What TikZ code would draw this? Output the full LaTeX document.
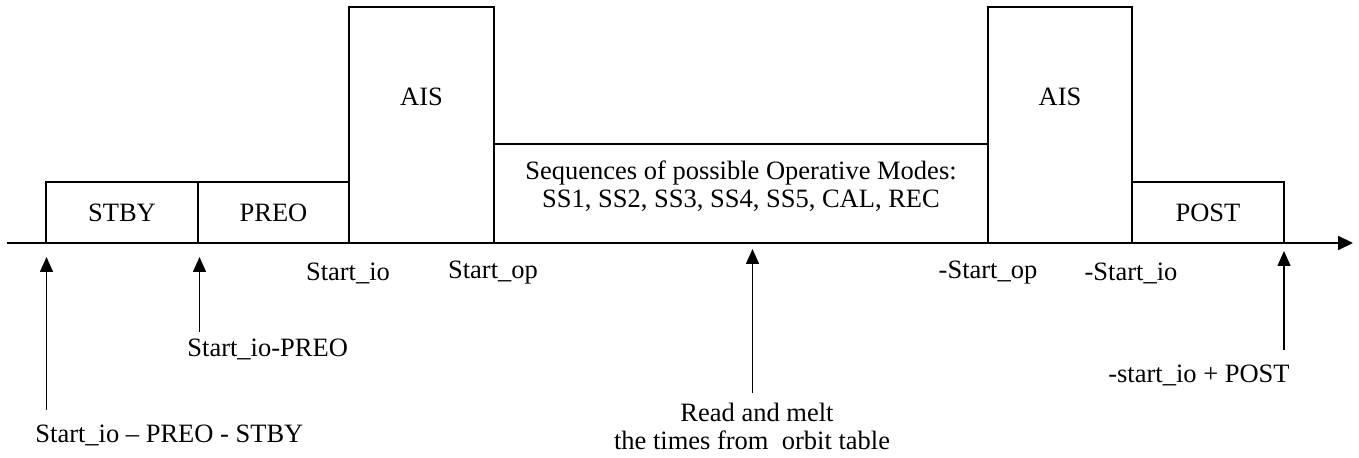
\documentclass[tikz,border=0pt]{standalone}
\usepackage{fontspec}
\setmainfont{Liberation Serif}
\usetikzlibrary{arrows.meta}
\begin{document}
\begin{tikzpicture}[x=0.5bp,y=-0.5bp,
  every node/.style={font=\fontsize{13.3}{14}\selectfont},
  box/.style={draw, line width=0.75pt, inner sep=0pt, outer sep=0pt},
  txt/.style={inner sep=0pt, align=center},
  uparrow/.style={line width=0.75pt, -{Triangle[length=7.5bp,width=6.5bp]}},
  axisline/.style={line width=1pt, -{Triangle[length=7.5bp,width=7bp]}}]
\useasboundingbox (0,0) rectangle (1359,458);
% boxes
\node[box, minimum width=76bp, minimum height=30.5bp] (stby) at (122,212.5) {STBY};
\node[box, minimum width=75.5bp, minimum height=30.5bp] (preo) at (273.5,212.5) {PREO};
\node[box, minimum width=72.5bp, minimum height=118bp] (ais1) at (421.5,125) {};
\node[box, minimum width=247bp, minimum height=49.5bp] (mid) at (741,193.5) {};
\node[box, minimum width=72bp, minimum height=118bp] (ais2) at (1060,125) {};
\node[box, minimum width=76bp, minimum height=30.5bp] (post) at (1208,212.5) {POST};
\node[txt] (ais1t) at (421.5,97) {AIS};
\node[txt] (ais2t) at (1060,97) {AIS};
\node[txt] (midt) at (741,186) {Sequences of possible Operative Modes:\\SS1, SS2, SS3, SS4, SS5, CAL, REC};
% axis
\coordinate (ax0) at (7,243);
\coordinate (ax1) at (1353,243);
\draw[axisline] (ax0) -- (ax1);
% axis labels
\node[txt] (l1) at (348,273) {Start\_io};
\node[txt] (l2) at (493,273) {Start\_op};
\node[txt] (l3) at (988,273) {-Start\_op};
\node[txt] (l4) at (1131,273) {-Start\_io};
% arrows and their labels
\coordinate (a1b) at (46.5,410); \coordinate (a1t) at (46.5,257);
\coordinate (a2b) at (199.5,332); \coordinate (a2t) at (199.5,257);
\coordinate (a3b) at (752.5,393); \coordinate (a3t) at (752.5,249);
\coordinate (a4b) at (1284,350); \coordinate (a4t) at (1284,251);
\draw[uparrow] (a1b) -- (a1t);
\draw[uparrow] (a2b) -- (a2t);
\draw[uparrow] (a3b) -- (a3t);
\draw[uparrow] (a4b) -- (a4t);
\node[txt, anchor=base west] (t1) at (35,443) {Start\_io -- PREO - STBY};
\node[txt, anchor=base west] (t2) at (187,357) {Start\_io-PREO};
\node[txt, anchor=base east] (t4) at (1290,383) {-start\_io + POST};
\node[txt, anchor=base] (t3a) at (757,422) {Read and melt};
\node[txt, anchor=base] (t3b) at (752,450) {the times from\ \ orbit table};
\end{tikzpicture}
\end{document}
